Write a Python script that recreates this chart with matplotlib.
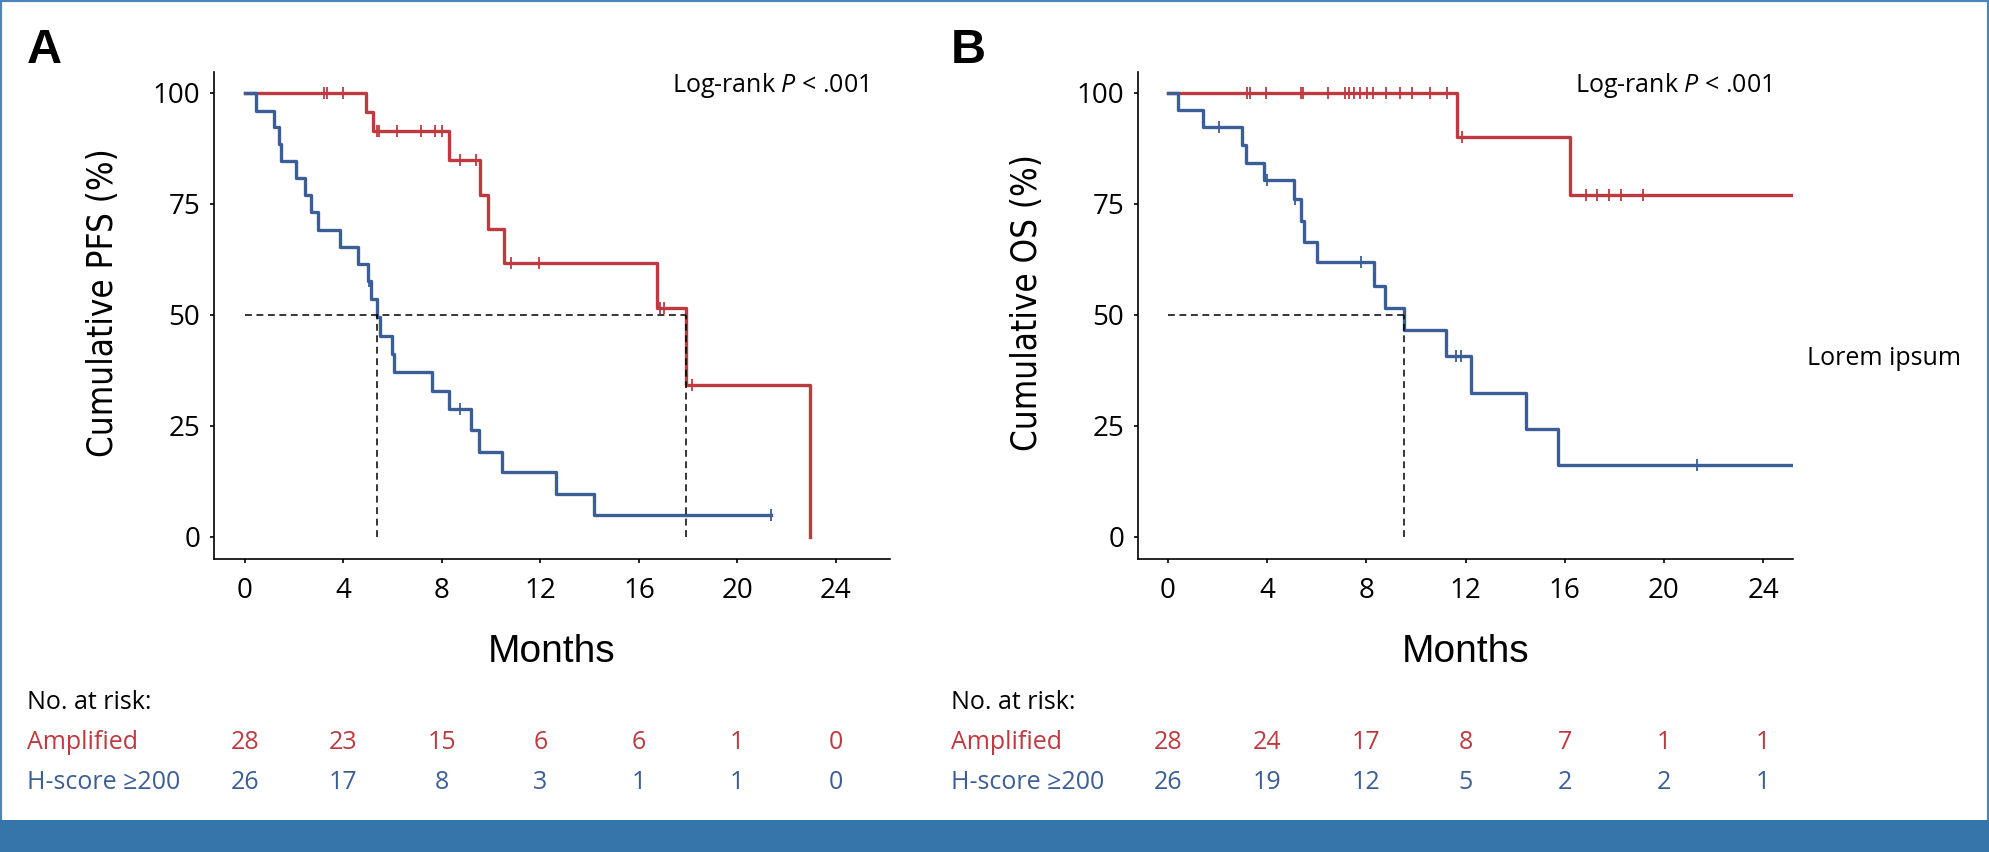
import numpy as np
import matplotlib
matplotlib.use("Agg")
import matplotlib.pyplot as plt
import matplotlib.transforms as mtransforms
from matplotlib.patches import Rectangle

plt.rcParams['font.family'] = ['Open Sans', 'DejaVu Sans']
plt.rcParams['mathtext.fontset'] = 'custom'
plt.rcParams['mathtext.rm'] = 'Open Sans'
plt.rcParams['mathtext.it'] = 'Open Sans:italic'

RED = '#BE3A40'
BLUE = '#3C5E97'
BAND = '#3675AA'

# ---- PFS (panel A) ----
pfs_amp_t = [0, 4.92, 5.19, 8.29, 9.53, 9.85, 10.53, 16.73, 17.93, 22.93]
pfs_amp_s = [100, 95.6, 91.3, 84.9, 77.0, 69.3, 61.6, 51.5, 34.2, 0]
pfs_amp_end = 22.93
pfs_amp_cens = [3.21, 3.35, 3.97, 5.35, 5.46, 6.19, 7.14, 7.72, 8.02,
                8.74, 9.39, 10.80, 11.93, 16.85, 17.0, 18.15]

pfs_h_t = [0, 0.45, 1.18, 1.39, 1.45, 2.06, 2.44, 2.68, 2.95, 3.86, 4.57,
           4.98, 5.11, 5.35, 5.49, 5.99, 6.07, 7.61, 8.27, 9.17, 9.51,
           10.43, 12.64, 14.16]
pfs_h_s = [100, 96.0, 92.2, 88.5, 84.6, 80.8, 76.9, 73.1, 69.2, 65.3, 61.5,
           57.6, 53.5, 49.6, 45.3, 41.2, 37.1, 32.9, 28.8, 24.0, 19.2,
           14.5, 9.6, 4.8]
pfs_h_end = 21.35
pfs_h_cens = [5.05, 8.74, 21.35]

pfs_medians = [5.35, 17.93]

# ---- OS (panel B) ----
os_amp_t = [0, 11.64, 16.2]
os_amp_s = [100, 90.0, 77.0]
os_amp_end = 26
os_amp_cens = [3.2, 3.3, 3.97, 5.36, 5.46, 6.44, 7.16, 7.30, 7.50, 7.74,
               8.01, 8.28, 8.78, 9.35, 9.85, 10.55, 11.25, 11.85,
               16.85, 17.29, 17.78, 18.27, 19.17]

os_h_t = [0, 0.42, 1.42, 3.0, 3.14, 3.87, 5.08, 5.36, 5.5, 6.02, 8.3, 8.75,
          9.53, 11.22, 12.24, 14.42, 15.74]
os_h_s = [100, 96.2, 92.2, 88.3, 84.3, 80.3, 76.0, 71.2, 66.5, 61.9, 56.6,
          51.5, 46.5, 40.7, 32.5, 24.3, 16.2]
os_h_end = 26
os_h_cens = [2.07, 3.98, 5.12, 7.78, 11.6, 11.8, 21.35]

os_medians = [9.53]

# ---- numbers at risk ----
risk_times = [0, 4, 8, 12, 16, 20, 24]
pfs_risk_amp = [28, 23, 15, 6, 6, 1, 0]
pfs_risk_h = [26, 17, 8, 3, 1, 1, 0]
os_risk_amp = [28, 24, 17, 8, 7, 1, 1]
os_risk_h = [26, 19, 12, 5, 2, 2, 1]


def km(ax, t, s, end, cens, color):
    tt = list(t) + [end]
    ss = list(s) + [s[-1]]
    ax.step(tt, ss, where='post', color=color, lw=2.4)
    cy = [s[np.searchsorted(t, c, side='right') - 1] for c in cens]
    ax.plot(cens, cy, ls='none', marker='|', ms=8, mew=1.3, color=color)


def panel(ax, xlim, curves, medians, ylabel, letter, lx, risk_amp, risk_h):
    for c in curves:
        km(ax, *c)
    for m in medians:
        ax.plot([m, m], [0, 50], color='k', lw=1.1, dashes=(4.5, 3))
    ax.plot([0, max(medians)], [50, 50], color='k', lw=1.1, dashes=(4.5, 3))

    ax.set_xlim(*xlim)
    ax.set_ylim(-5, 104.7)
    ax.set_xticks(risk_times)
    ax.set_yticks([0, 25, 50, 75, 100])
    ax.spines['top'].set_visible(False)
    ax.spines['right'].set_visible(False)
    ax.spines['left'].set_linewidth(1.2)
    ax.spines['bottom'].set_linewidth(1.2)
    ax.tick_params(direction='out', length=3, width=1.2, labelsize=20)
    ax.tick_params(axis='x', pad=10)
    ax.tick_params(axis='y', pad=7)

    pos = ax.get_position()
    cx = (pos.x0 + pos.x1) / 2
    fig.text(cx, 0.2347, 'Months', ha='center', va='center', fontsize=28,
             family=['Liberation Sans', 'DejaVu Sans'])
    fig.text(pos.x0 - 111 / 1989, 0.6444, ylabel, rotation=90, ha='center',
             va='center', fontsize=25, family=['DejaVu Sans'],
             stretch='condensed')
    fig.text(pos.x0 - 170 / 1989, 0.9413, letter, ha='center', va='center',
             fontsize=35, fontweight='bold',
             family=['Liberation Sans', 'DejaVu Sans'])
    fig.text(pos.x1 - 22 / 1989, 0.9002, 'Log-rank $P$ < .001', ha='right',
             va='center', fontsize=18)

    # numbers at risk
    tr = mtransforms.blended_transform_factory(ax.transData, fig.transFigure)
    fig.text(lx, 0.1749, 'No. at risk:', ha='left', va='center', fontsize=18)
    fig.text(lx, 0.1291, 'Amplified', ha='left', va='center', fontsize=18,
             color=RED)
    fig.text(lx, 0.0810, 'H-score \u2265200', ha='left', va='center',
             fontsize=18, color=BLUE)
    for x, a, h in zip(risk_times, risk_amp, risk_h):
        ax.text(x, 0.1291, str(a), transform=tr, ha='center', va='center',
                fontsize=18, color=RED)
        ax.text(x, 0.0810, str(h), transform=tr, ha='center', va='center',
                fontsize=18, color=BLUE)


fig = plt.figure(figsize=(19.89, 8.52), dpi=100)
axA = fig.add_axes([214 / 1989, 1 - 559 / 852, 676 / 1989, 487 / 852])
axB = fig.add_axes([1138 / 1989, 1 - 559 / 852, 655 / 1989, 487 / 852])

panel(axA, (-1.26, 26.2),
      [(pfs_amp_t, pfs_amp_s, pfs_amp_end, pfs_amp_cens, RED),
       (pfs_h_t, pfs_h_s, pfs_h_end, pfs_h_cens, BLUE)],
      pfs_medians, 'Cumulative PFS (%)', 'A', 27 / 1989,
      pfs_risk_amp, pfs_risk_h)
panel(axB, (-1.2, 25.2),
      [(os_amp_t, os_amp_s, os_amp_end, os_amp_cens, RED),
       (os_h_t, os_h_s, os_h_end, os_h_cens, BLUE)],
      os_medians, 'Cumulative OS (%)', 'B', 951 / 1989,
      os_risk_amp, os_risk_h)

fig.text(1807 / 1989, 0.5798, 'Lorem ipsum', ha='left', va='center',
         fontsize=18)

# frame and bottom band
fig.patches.append(Rectangle((0, 0), 1, 1, transform=fig.transFigure,
                             fill=False, edgecolor='#4A84B8', lw=3))
fig.patches.append(Rectangle((0, 0), 1, 32 / 852, transform=fig.transFigure,
                             facecolor=BAND, edgecolor='none'))

plt.savefig('out.png', dpi=100)
